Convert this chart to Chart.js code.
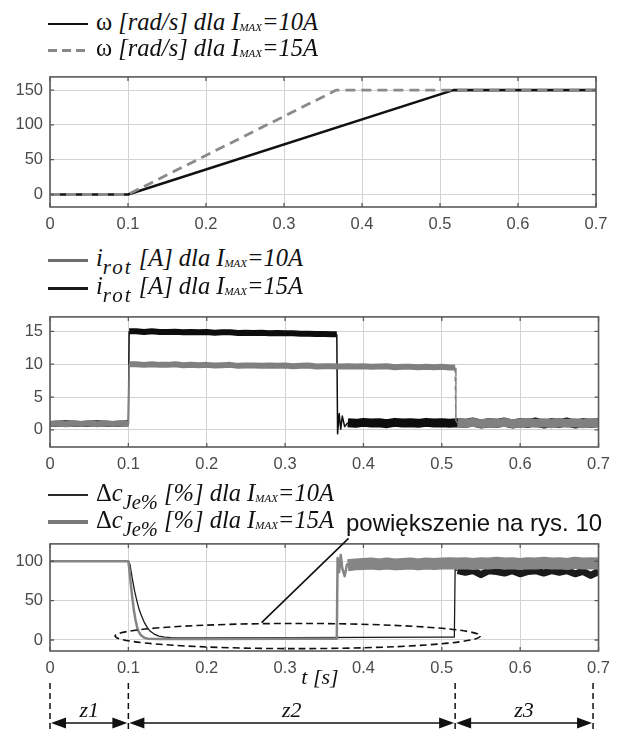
<!DOCTYPE html>
<html lang="pl">
<head>
<meta charset="utf-8">
<title>ω, i_rot, Δc_Je%</title>
<script src="https://cdn.jsdelivr.net/npm/chart.js@4.4.1/dist/chart.umd.min.js"></script>
<style>
  html, body { margin: 0; padding: 0; background: #fff; }
  #fig { position: relative; width: 618px; height: 729px; overflow: hidden; }
  #fig canvas { position: absolute; left: 0; }
  .leg { position: absolute; left: 48px; height: 26px; display: flex; align-items: center; white-space: nowrap; }
  .smp { display: inline-block; width: 40px; margin-right: 8px; }
  .tx { font-family: "Liberation Serif", "Times New Roman", Tinos, "DejaVu Serif", serif; font-style: italic; font-size: 24.5px; color: #111; line-height: 26px; }
  .up { font-style: normal; }
  .mx { font-size: 11px; position: relative; top: 1px; }
  .sr { font-size: 21px; letter-spacing: 2px; position: relative; top: 8px; }
  .sj { font-size: 20.5px; position: relative; top: 8px; }
  .note { position: absolute; font-family: "Liberation Sans", Arial, sans-serif; font-size: 24px; color: #111; white-space: nowrap; line-height: 28px; }
  .it { position: absolute; font-family: "Liberation Serif", "Times New Roman", Tinos, "DejaVu Serif", serif; font-style: italic; font-size: 22px; color: #111; white-space: nowrap; line-height: 24px; transform: translateX(-50%); }
</style>
</head>
<body>
<div id="fig">
  <canvas id="cOmega" width="618" height="182" style="top:60px"></canvas>
  <canvas id="cIrot" width="618" height="180" style="top:300px"></canvas>
  <canvas id="cDc" width="618" height="202" style="top:527px"></canvas>

  <div class="leg" style="top:11px"><span class="smp" style="height:2px;background:#111"></span><span class="tx"><span class="up">ω</span> [rad/s] dla I<span class="mx">MAX</span>=10A</span></div>
  <div class="leg" style="top:37px"><span class="smp" style="height:3px;background:repeating-linear-gradient(90deg,#888 0 9px,transparent 9px 14px)"></span><span class="tx"><span class="up">ω</span> [rad/s] dla I<span class="mx">MAX</span>=15A</span></div>

  <div class="leg" style="top:247px"><span class="smp" style="height:3px;background:#6e6e6e"></span><span class="tx">i<span class="sr">rot</span> [A] dla I<span class="mx">MAX</span>=10A</span></div>
  <div class="leg" style="top:275px"><span class="smp" style="height:3px;background:#1a1a1a"></span><span class="tx">i<span class="sr">rot</span> [A] dla I<span class="mx">MAX</span>=15A</span></div>

  <div class="leg" style="top:482px"><span class="smp" style="height:2px;background:#2a2a2a"></span><span class="tx"><span class="up">Δ</span>c<span class="sj">Je%</span> [%] dla I<span class="mx">MAX</span>=10A</span></div>
  <div class="leg" style="top:509px"><span class="smp" style="height:3.5px;background:#7a7a7a"></span><span class="tx"><span class="up">Δ</span>c<span class="sj">Je%</span> [%] dla I<span class="mx">MAX</span>=15A</span></div>

  <div class="note" style="left:346px;top:509px">powiększenie na rys. 10</div>
  <div class="it" style="left:320px;top:665px">t [s]</div>
</div>

<script>
// time axis, shared by all three plots
const xTicks = [0, 0.1, 0.2, 0.3, 0.4, 0.5, 0.6, 0.7];
const xTickLabels = ['0', '0.1', '0.2', '0.3', '0.4', '0.5', '0.6', '0.7'];

// omega [rad/s]
const omegaTicks = [0, 50, 100, 150];
const omega10 = [[0, 0], [0.1, 0], [0.517, 150], [0.7, 150]];
const omega15 = [[0, 0], [0.1, 0], [0.367, 150], [0.7, 150]];

// i_rot [A]
const irotTicks = [0, 5, 10, 15];
const irot10 = [
  [0, 0.9], [0.01, 1.0], [0.02, 0.85], [0.03, 1.0], [0.04, 0.9], [0.05, 1.05], [0.06, 0.85], [0.07, 1.0], [0.08, 0.9], [0.09, 1.0], [0.1, 0.9],
  [0.101, 10.0], [0.11, 10.0], [0.12, 9.9], [0.13, 10.0], [0.14, 9.9], [0.15, 9.9], [0.16, 10.0], [0.17, 9.85], [0.18, 9.9], [0.19, 9.85], [0.2, 9.9],
  [0.21, 9.8], [0.22, 9.85], [0.23, 9.9], [0.24, 9.75], [0.25, 9.8], [0.26, 9.8], [0.27, 9.75], [0.28, 9.8], [0.29, 9.75], [0.3, 9.8],
  [0.31, 9.7], [0.32, 9.75], [0.33, 9.8], [0.34, 9.65], [0.35, 9.7], [0.36, 9.7], [0.37, 9.65], [0.38, 9.7], [0.39, 9.65], [0.4, 9.7],
  [0.41, 9.6], [0.42, 9.65], [0.43, 9.7], [0.44, 9.55], [0.45, 9.6], [0.46, 9.6], [0.47, 9.55], [0.48, 9.6], [0.49, 9.55], [0.5, 9.6],
  [0.51, 9.5], [0.517, 9.5], [0.518, 1.3],
  [0.52, 1.1], [0.53, 1.0], [0.54, 1.15], [0.55, 0.95], [0.56, 1.1], [0.57, 1.0], [0.58, 1.15], [0.59, 0.95], [0.6, 1.05], [0.61, 1.15],
  [0.62, 1.0], [0.63, 1.1], [0.64, 0.95], [0.65, 1.15], [0.66, 1.0], [0.67, 1.1], [0.68, 0.95], [0.69, 1.1], [0.7, 1.05]
];
const irot15 = [
  [0, 0.9], [0.02, 1.0], [0.04, 0.9], [0.06, 1.0], [0.08, 0.9], [0.1, 1.0],
  [0.101, 15.0], [0.11, 15.0], [0.12, 14.9], [0.13, 15.0], [0.14, 14.9], [0.15, 14.9], [0.16, 14.95], [0.17, 14.85], [0.18, 14.9], [0.19, 14.85], [0.2, 14.9],
  [0.21, 14.8], [0.22, 14.85], [0.23, 14.85], [0.24, 14.75], [0.25, 14.8], [0.26, 14.75], [0.27, 14.8], [0.28, 14.7], [0.29, 14.75], [0.3, 14.7],
  [0.31, 14.7], [0.32, 14.65], [0.33, 14.65], [0.34, 14.6], [0.35, 14.6], [0.36, 14.55], [0.366, 14.55],
  [0.367, -0.6], [0.369, 2.5], [0.371, 0.1], [0.373, 2.1], [0.376, 0.5],
  [0.38, 1.1], [0.39, 1.0], [0.4, 1.15], [0.41, 1.05], [0.42, 1.1], [0.43, 0.95], [0.44, 1.15], [0.45, 1.05], [0.46, 1.1], [0.47, 1.0], [0.48, 1.15], [0.49, 1.05], [0.5, 1.1], [0.51, 1.0],
  [0.52, 1.1], [0.53, 1.0], [0.54, 1.2], [0.55, 0.9], [0.56, 1.1], [0.57, 1.0], [0.58, 1.2], [0.59, 0.9], [0.6, 1.1], [0.61, 1.0],
  [0.62, 1.2], [0.63, 0.9], [0.64, 1.1], [0.65, 1.0], [0.66, 1.2], [0.67, 0.9], [0.68, 1.1], [0.69, 1.0], [0.7, 1.1]
];

// delta c_Je% [%]
const dcTicks = [0, 50, 100];
const dc10 = [
  [0, 100], [0.1, 100], [0.102, 96], [0.105, 78], [0.108, 62], [0.111, 49], [0.114, 38], [0.117, 30], [0.12, 23], [0.124, 16],
  [0.128, 11], [0.133, 7.5], [0.139, 5], [0.146, 3.6], [0.155, 2.9], [0.2, 2.6], [0.3, 2.8], [0.4, 3.2], [0.5, 3.6], [0.516, 3.8],
  [0.517, 90], [0.52, 88], [0.53, 86], [0.54, 88], [0.55, 83], [0.56, 88], [0.57, 87], [0.58, 85], [0.59, 88], [0.6, 84],
  [0.61, 87], [0.62, 88], [0.63, 85], [0.64, 88], [0.65, 86], [0.66, 88], [0.67, 84], [0.68, 87], [0.69, 82], [0.7, 87]
];
const dc15 = [
  [0, 100], [0.1, 100], [0.101, 92], [0.103, 72], [0.105, 54], [0.107, 38], [0.109, 26], [0.111, 17], [0.113, 11], [0.116, 6],
  [0.12, 3], [0.125, 1.6], [0.14, 1.2], [0.2, 1.2], [0.3, 1.4], [0.366, 1.5],
  [0.367, 104], [0.369, 86], [0.371, 108], [0.373, 91], [0.376, 81], [0.379, 96],
  [0.38, 95], [0.39, 96], [0.4, 96.5], [0.41, 97], [0.42, 96], [0.43, 97], [0.44, 96], [0.45, 96.5], [0.46, 97], [0.47, 96],
  [0.48, 97], [0.49, 96.5], [0.5, 97], [0.51, 97.5], [0.52, 97], [0.53, 97.5], [0.54, 96.5], [0.55, 97.5], [0.56, 97], [0.57, 98],
  [0.58, 97], [0.59, 97.5], [0.6, 96.5], [0.61, 97.5], [0.62, 97], [0.63, 98], [0.64, 97], [0.65, 97.5], [0.66, 96.5], [0.67, 98],
  [0.68, 97], [0.69, 97.5], [0.7, 97]
];

// zones under the time axis
const zoneBounds = [0, 0.1, 0.517, 0.693];
const zoneLabels = ['z1', 'z2', 'z3'];

const FONT = "'Liberation Sans', Arial, sans-serif";
const pts = arr => arr.map(([x, y]) => ({ x, y }));

// noisy stretches are drawn as thick bands, the fast jumps between them stay thin
function bandWidth(bands) {
  return ctx => {
    if (ctx.p1.parsed.x - ctx.p0.parsed.x <= 0.0045) return undefined;
    let w;
    bands.forEach(([from, width]) => { if (ctx.p0.parsed.x >= from) w = width; });
    return w;
  };
}

// box around the plot with small inner ticks, like the matlab figure
const framePlugin = {
  id: 'frame',
  afterDraw(chart) {
    const { ctx, chartArea: a, scales: { x, y } } = chart;
    ctx.save();
    ctx.strokeStyle = '#5a5a5a';
    ctx.lineWidth = 1.3;
    ctx.beginPath();
    x.ticks.forEach(t => {
      const px = x.getPixelForValue(t.value);
      ctx.moveTo(px, a.bottom); ctx.lineTo(px, a.bottom - 4);
      ctx.moveTo(px, a.top); ctx.lineTo(px, a.top + 4);
    });
    y.ticks.forEach(t => {
      const py = y.getPixelForValue(t.value);
      ctx.moveTo(a.left, py); ctx.lineTo(a.left + 4, py);
      ctx.moveTo(a.right, py); ctx.lineTo(a.right - 4, py);
    });
    ctx.stroke();
    ctx.lineWidth = 1.6;
    ctx.strokeRect(a.left, a.top, a.right - a.left, a.bottom - a.top);
    ctx.restore();
  }
};

function arrowHead(ctx, tipX, y, dir) {
  ctx.beginPath();
  ctx.moveTo(tipX, y);
  ctx.lineTo(tipX + dir * 15, y - 5.5);
  ctx.lineTo(tipX + dir * 15, y + 5.5);
  ctx.closePath();
  ctx.fill();
}

// ellipse, pointer to the note and the z1/z2/z3 markers
const notePlugin = {
  id: 'note',
  afterDraw(chart) {
    const { ctx, chartArea: a, scales: { x, y } } = chart;
    ctx.save();
    ctx.strokeStyle = '#111';
    ctx.fillStyle = '#111';
    ctx.lineWidth = 1.6;

    const ex0 = x.getPixelForValue(0.083), ex1 = x.getPixelForValue(0.549);
    const ey0 = y.getPixelForValue(21), ey1 = y.getPixelForValue(-11);
    ctx.setLineDash([7, 4]);
    ctx.beginPath();
    ctx.ellipse((ex0 + ex1) / 2, (ey0 + ey1) / 2, (ex1 - ex0) / 2, (ey1 - ey0) / 2, 0, 0, Math.PI * 2);
    ctx.stroke();

    ctx.setLineDash([]);
    ctx.beginPath();
    ctx.moveTo(x.getPixelForValue(0.381), y.getPixelForValue(129));
    ctx.lineTo(x.getPixelForValue(0.27), y.getPixelForValue(22));
    ctx.stroke();

    const yTop = a.bottom + 32, yBot = a.bottom + 78, yArr = a.bottom + 72;
    const px = zoneBounds.map(t => x.getPixelForValue(t));
    ctx.setLineDash([6, 4]);
    ctx.lineWidth = 1.5;
    px.forEach(p => {
      ctx.beginPath(); ctx.moveTo(p, yTop); ctx.lineTo(p, yBot); ctx.stroke();
    });
    ctx.setLineDash([]);
    for (let i = 0; i < px.length - 1; i++) {
      ctx.beginPath(); ctx.moveTo(px[i] + 10, yArr); ctx.lineTo(px[i + 1] - 10, yArr); ctx.stroke();
      arrowHead(ctx, px[i] + 1, yArr, 1);
      arrowHead(ctx, px[i + 1] - 1, yArr, -1);
    }
    ctx.restore();
  }
};

function makeChart(id, datasets, yMin, yMax, yTicks, pad, xH, extra) {
  return new Chart(document.getElementById(id), {
    type: 'line',
    data: { datasets },
    options: {
      responsive: false,
      animation: false,
      events: [],
      layout: { padding: pad },
      plugins: { legend: { display: false }, tooltip: { enabled: false } },
      elements: { point: { radius: 0 }, line: { tension: 0, borderJoinStyle: 'round' } },
      scales: {
        x: {
          type: 'linear', min: 0, max: 0.7,
          afterBuildTicks: ax => { ax.ticks = xTicks.map(v => ({ value: v })); },
          afterFit: ax => { ax.height = xH; },
          ticks: {
            callback: (v, i) => xTickLabels[i],
            color: '#4a4a4a', font: { family: FONT, size: 16.5 }, padding: 8, maxRotation: 0, autoSkip: false
          },
          grid: { color: '#d2d2d2', lineWidth: 1, drawTicks: false },
          border: { display: false }
        },
        y: {
          type: 'linear', min: yMin, max: yMax,
          afterBuildTicks: ax => { ax.ticks = yTicks.map(v => ({ value: v })); },
          afterFit: ax => { ax.width = 50; },
          ticks: {
            callback: v => String(v),
            color: '#4a4a4a', font: { family: FONT, size: 16.5 }, padding: 7, autoSkip: false
          },
          grid: { color: '#d2d2d2', lineWidth: 1, drawTicks: false },
          border: { display: false }
        }
      }
    },
    plugins: [framePlugin].concat(extra || [])
  });
}

makeChart('cOmega', [
  { data: pts(omega15), borderColor: '#8a8a8a', borderWidth: 2.8, borderDash: [10, 6], order: 0 },
  { data: pts(omega10), borderColor: '#111', borderWidth: 2.6, order: 1 }
], -18, 169, omegaTicks, { top: 15, right: 22, left: 0, bottom: 0 }, 35);

makeChart('cIrot', [
  { data: pts(irot10), borderColor: '#808080', borderWidth: 1.5, order: 0,
    segment: {
      borderWidth: bandWidth([[0, 6], [0.518, 9]]),
      borderDash: ctx => (ctx.p0.parsed.x > 0.51 && ctx.p1.parsed.x - ctx.p0.parsed.x < 0.0045) ? [5, 4] : undefined
    } },
  { data: pts(irot15), borderColor: '#0d0d0d', borderWidth: 1.5, order: 1,
    segment: { borderWidth: bandWidth([[0, 6], [0.376, 9]]) } }
], -2.6, 17.2, irotTicks, { top: 15, right: 18, left: 0, bottom: 0 }, 33);

const dcChart = makeChart('cDc', [
  { data: pts(dc15), borderColor: '#858585', borderWidth: 2.5, order: 0, segment: { borderWidth: bandWidth([[0.379, 12]]) } },
  { data: pts(dc10), borderColor: '#1a1a1a', borderWidth: 1.3, order: 1, segment: { borderWidth: bandWidth([[0.517, 7]]) } }
], -14, 122, dcTicks, { top: 15, right: 18, left: 0, bottom: 45 }, 33, [notePlugin]);

// zone names as text under the arrows
const fig = document.getElementById('fig');
const xs = dcChart.scales.x;
zoneLabels.forEach((lab, i) => {
  const d = document.createElement('div');
  d.className = 'it';
  d.textContent = lab;
  d.style.left = ((xs.getPixelForValue(zoneBounds[i]) + xs.getPixelForValue(zoneBounds[i + 1])) / 2) + 'px';
  d.style.top = '698px';
  fig.appendChild(d);
});
</script>
</body>
</html>
